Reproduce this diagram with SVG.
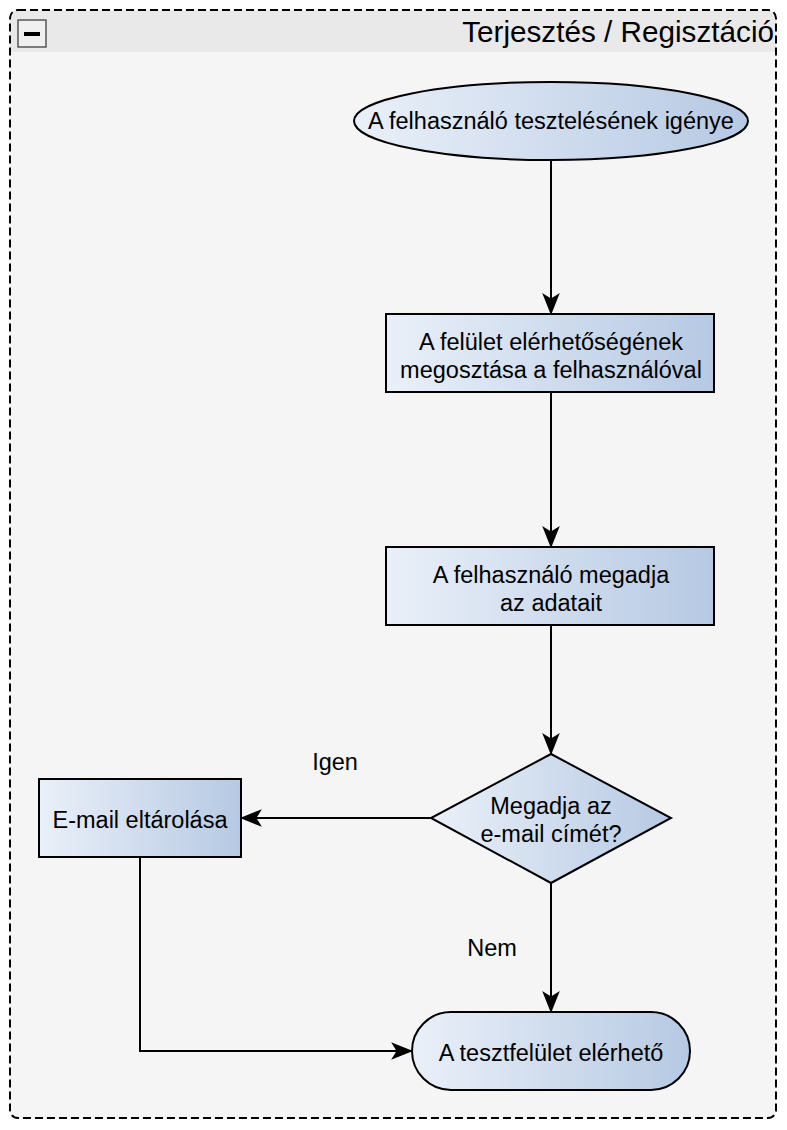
<svg xmlns="http://www.w3.org/2000/svg" width="787" height="1130" viewBox="0 0 787 1130">
<style>
.lbl{font-family:"Liberation Sans",Arial,sans-serif;font-size:23.5px;fill:#000;text-anchor:middle}
.node{fill:url(#g);stroke:#000;stroke-width:2}
.edge{fill:none;stroke:#000;stroke-width:2}
</style>
<defs>
<linearGradient id="g" x1="0" y1="0" x2="1" y2="0">
<stop offset="0" stop-color="#eaf0f9"/>
<stop offset="1" stop-color="#b6c9e3"/>
</linearGradient>
<marker id="arr" viewBox="0 0 20 20" refX="19" refY="10" markerWidth="22" markerHeight="22" markerUnits="userSpaceOnUse" orient="auto">
<path d="M0,2 L20,10 L0,18 L5,10 Z" fill="#000"/>
</marker>
</defs>
<rect width="787" height="1130" fill="#fff"/>
<g id="container">
<rect x="10" y="10" width="766" height="1108" rx="8" fill="#f5f5f5" stroke="none"/>
<path d="M18,10 H768 A8,8 0 0 1 776,18 V52 H10 V18 A8,8 0 0 1 18,10 Z" fill="#e9e9e9"/>
<rect x="10" y="10" width="766" height="1108" rx="8" fill="none" stroke="#000" stroke-width="2" stroke-dasharray="8 4"/>
<rect x="18" y="20" width="28" height="27" fill="#f0f0f0" stroke="#555" stroke-width="1.5"/>
<rect x="24" y="32" width="16" height="4" fill="#000"/>
<text x="774" y="42" style="font-family:'Liberation Sans',Arial,sans-serif;font-size:29.7px;text-anchor:end">Terjesztés / Regisztáció</text>
</g>
<g id="connectors">
<path class="edge" d="M551,160 V314" marker-end="url(#arr)"/>
<path class="edge" d="M551,392 V547" marker-end="url(#arr)"/>
<path class="edge" d="M551,625 V754" marker-end="url(#arr)"/>
<path class="edge" d="M431,818 H241" marker-end="url(#arr)"/>
<path class="edge" d="M551,883 V1012" marker-end="url(#arr)"/>
<path class="edge" d="M140,857 V1051 H412" marker-end="url(#arr)"/>
<text class="lbl" x="335" y="770">Igen</text>
<text class="lbl" x="492" y="956">Nem</text>
</g>
<g id="start">
<ellipse class="node" cx="551" cy="121" rx="197" ry="39"/>
<text class="lbl" x="551" y="129">A felhasználó tesztelésének igénye</text>
</g>
<g id="share">
<rect class="node" x="386" y="314" width="328" height="78"/>
<text class="lbl" x="551" y="350">A felület elérhetőségének</text>
<text class="lbl" x="551" y="378">megosztása a felhasználóval</text>
</g>
<g id="input">
<rect class="node" x="386" y="547" width="328" height="78"/>
<text class="lbl" x="551" y="583">A felhasználó megadja</text>
<text class="lbl" x="551" y="611">az adatait</text>
</g>
<g id="decision">
<path class="node" d="M551,754 L671,818 L551,883 L431,818 Z"/>
<text class="lbl" x="551" y="814">Megadja az</text>
<text class="lbl" x="551" y="842">e-mail címét?</text>
</g>
<g id="store">
<rect class="node" x="39" y="779" width="202" height="78"/>
<text class="lbl" x="140" y="828">E-mail eltárolása</text>
</g>
<g id="end">
<rect class="node" x="412" y="1012" width="278" height="78" rx="39"/>
<text class="lbl" x="551" y="1061">A tesztfelület elérhető</text>
</g>
</svg>
